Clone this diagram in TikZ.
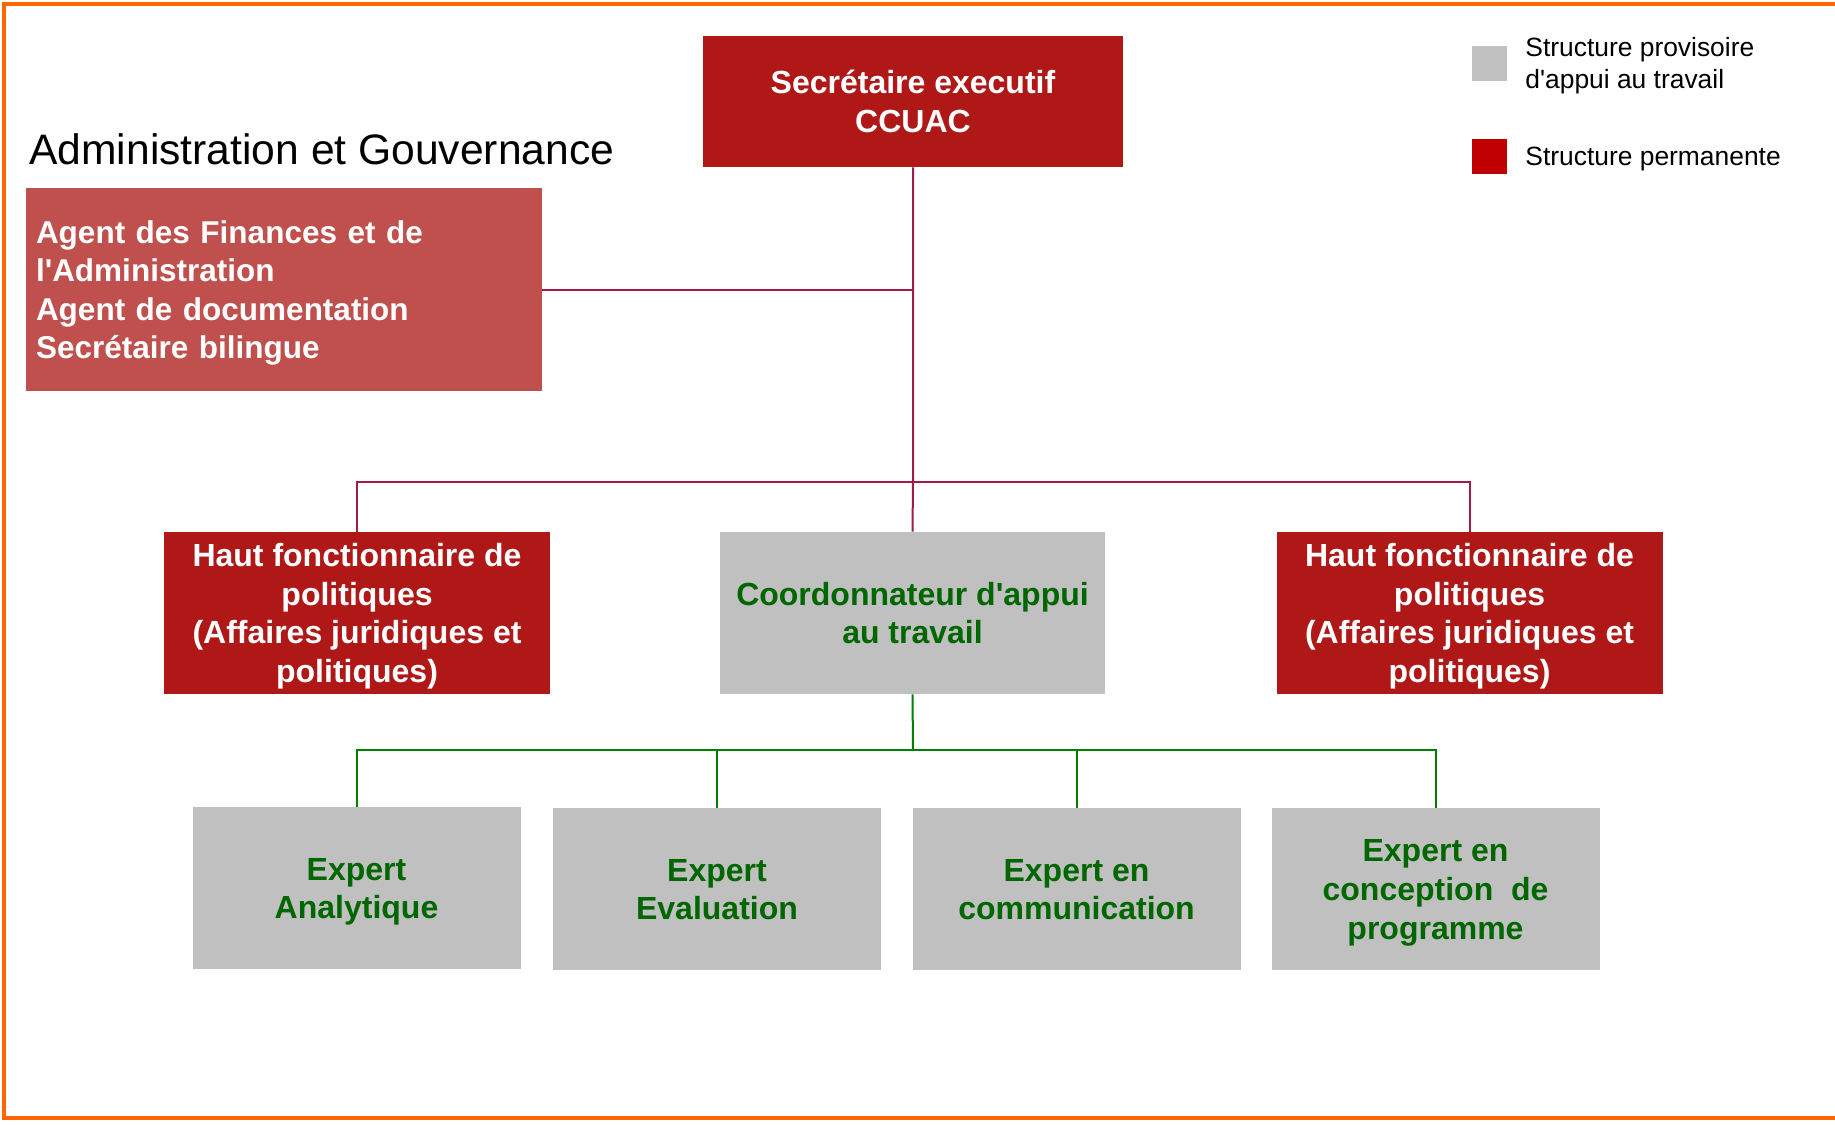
\documentclass[tikz,border=0pt]{standalone}
\usepackage{fontspec}
\setmainfont{Liberation Sans}
\usepackage{tikz}
\usetikzlibrary{positioning}
\usepackage{xcolor}
\definecolor{ccred}{RGB}{176,24,24}
\definecolor{cclightred}{RGB}{192,80,77}
\definecolor{ccgray}{RGB}{192,192,192}
\definecolor{cclegred}{RGB}{192,0,0}
\definecolor{ccgreen}{RGB}{0,102,0}
\definecolor{cclinegreen}{RGB}{0,128,0}
\definecolor{ccline}{RGB}{158,28,70}
\definecolor{ccorange}{RGB}{255,102,0}
\newcommand{\apos}{\textquotesingle}
\newcommand{\ls}{\rule[-3.5pt]{0pt}{18.5pt}}
\tikzstyle{permbox} = [fill=ccred, text=white, align=center, inner sep=0pt, font=\bfseries\fontsize{16}{19.3}\selectfont]
\tikzstyle{tempbox} = [fill=ccgray, text=ccgreen, align=center, inner sep=0pt, font=\bfseries\fontsize{16}{19.3}\selectfont]
\tikzstyle{redline} = [line width=1pt, color=ccline]
\tikzstyle{greenline} = [line width=1pt, color=cclinegreen]
\tikzstyle{legendtext} = [anchor=west, align=left, inner sep=0pt, font=\fontsize{13.2}{16}\selectfont]

\begin{document}
\begin{tikzpicture}[x=0.5pt, y=-0.5pt]
\useasboundingbox (0,0) rectangle (1835,1124);
% frame
\draw[line width=2pt, ccorange] (1835,4) -- (4,4) -- (4,1118) -- (1835,1118);

% title and legend
\node[anchor=west, inner sep=0pt, font=\fontsize{21.3}{25}\selectfont] (title) at (29,149) {Administration et Gouvernance};
\node[fill=ccgray, minimum size=17.5pt, inner sep=0pt] (keytemp) at (1489.5,63) {};
\node[fill=cclegred, minimum size=17.5pt, inner sep=0pt] (keyperm) at (1489.5,156) {};
\node[legendtext] (keytemptxt) at (1525,66) {Structure provisoire\\d\apos appui au travail};
\node[legendtext] (keypermtxt) at (1525,159.5) {Structure permanente};

% top level
\node[permbox, minimum width=210pt, minimum height=65.5pt] (sec) at (913,101.5) {\ls Secrétaire executif\\CCUAC\ls};
\node[fill=cclightred, text=white, align=left, inner xsep=5pt, inner ysep=0pt, text width=248pt, minimum height=101.5pt, font=\bfseries\fontsize{15.75}{19.1}\selectfont] (admin) at (284,289.5)
  {\ls Agent des Finances et de\\l\apos Administration\\Agent de documentation\\Secrétaire bilingue\ls};

% second level
\node[permbox, minimum width=193pt, minimum height=81pt] (hautL) at (357,613) {\ls Haut fonctionnaire de\\politiques\\(Affaires juridiques et\\politiques)\ls};
\node[tempbox, minimum width=192.5pt, minimum height=81pt] (coord) at (912.5,613) {\ls Coordonnateur d\apos appui\\au travail\ls};
\node[permbox, minimum width=193pt, minimum height=81pt] (hautR) at (1469.5,613) {\ls Haut fonctionnaire de\\politiques\\(Affaires juridiques et\\politiques)\ls};

% experts
\node[tempbox, minimum width=164pt, minimum height=81pt] (expA) at (356.5,888) {\ls Expert\\Analytique\ls};
\node[tempbox, minimum width=164pt, minimum height=81pt] (expB) at (717,889) {\ls Expert\\Evaluation\ls};
\node[tempbox, minimum width=164pt, minimum height=81pt] (expC) at (1076.5,889) {\ls Expert en\\communication\ls};
\node[tempbox, minimum width=164pt, minimum height=81pt] (expD) at (1435.5,889) {\ls Expert en\\conception~ de\\programme\ls};

% links
\coordinate (bus) at (913,481.5);
\coordinate (gbus) at (913,750);
\draw[redline] (sec.south) -- (bus) -- (coord.north);
\draw[redline] (admin.east) -- (admin.east -| sec.south);
\draw[redline] (hautL.north) |- (bus) -| (hautR.north);
\draw[greenline] (coord.south) -- (gbus);
\draw[greenline] (expA.north) |- (gbus) -| (expD.north);
\draw[greenline] (expB.north) -- (expB.north |- gbus);
\draw[greenline] (expC.north) -- (expC.north |- gbus);
\end{tikzpicture}
\end{document}
